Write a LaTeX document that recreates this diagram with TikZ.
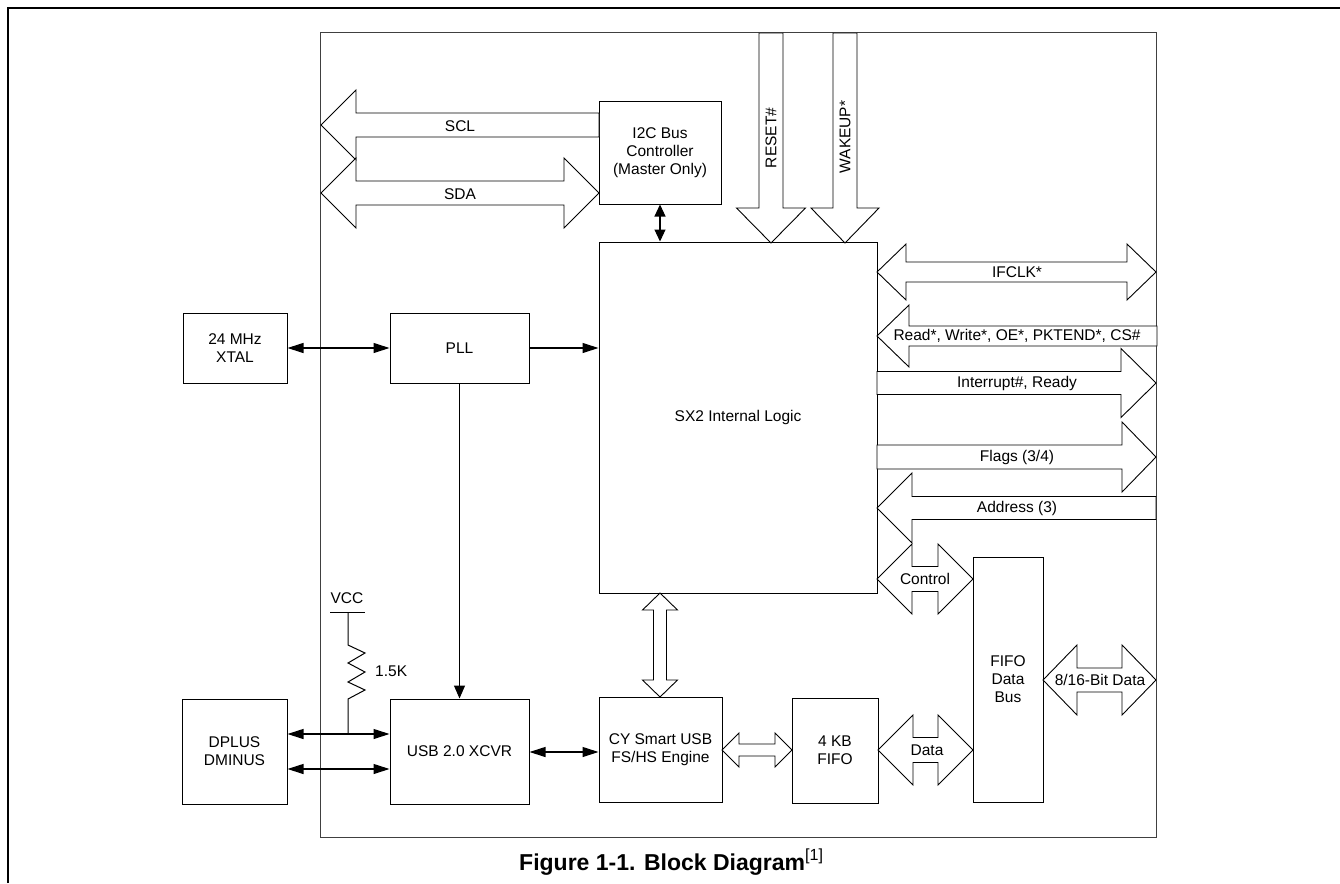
\documentclass[tikz,border=0pt]{standalone}
\usepackage{fontspec}
\setmainfont{Liberation Sans}
\usetikzlibrary{arrows.meta}
\newcommand{\HDbl}[6]{\draw[hol] (#1,#3) -- ({#1+#6},{#3-#5}) -- ({#1+#6},{#3-#4}) -- ({#2-#6},{#3-#4}) -- ({#2-#6},{#3-#5}) -- (#2,#3) -- ({#2-#6},{#3+#5}) -- ({#2-#6},{#3+#4}) -- ({#1+#6},{#3+#4}) -- ({#1+#6},{#3+#5}) -- cycle;}
\newcommand{\HRight}[6]{\draw[hol] (#1,{#3-#4}) -- ({#2-#6},{#3-#4}) -- ({#2-#6},{#3-#5}) -- (#2,#3) -- ({#2-#6},{#3+#5}) -- ({#2-#6},{#3+#4}) -- (#1,{#3+#4}) -- cycle;}
\newcommand{\HLeft}[6]{\draw[hol] (#2,{#3-#4}) -- ({#1+#6},{#3-#4}) -- ({#1+#6},{#3-#5}) -- (#1,#3) -- ({#1+#6},{#3+#5}) -- ({#1+#6},{#3+#4}) -- (#2,{#3+#4}) -- cycle;}
\newcommand{\VDbl}[6]{\draw[hol] (#3,#1) -- ({#3+#5},{#1+#6}) -- ({#3+#4},{#1+#6}) -- ({#3+#4},{#2-#6}) -- ({#3+#5},{#2-#6}) -- (#3,#2) -- ({#3-#5},{#2-#6}) -- ({#3-#4},{#2-#6}) -- ({#3-#4},{#1+#6}) -- ({#3-#5},{#1+#6}) -- cycle;}
\newcommand{\VDown}[6]{\draw[hol] ({#3-#4},#1) -- ({#3+#4},#1) -- ({#3+#4},{#2-#6}) -- ({#3+#5},{#2-#6}) -- (#3,#2) -- ({#3-#5},{#2-#6}) -- ({#3-#4},{#2-#6}) -- cycle;}
\begin{document}
\begin{tikzpicture}[x=1pt,y=-1pt,
  every node/.style={font=\fontsize{15.5}{18}\selectfont, inner sep=0pt},
  blk/.style={draw, line width=1pt, fill=white, align=center},
  hol/.style={draw, line width=0.9pt, fill=white, line join=miter},
  conn/.style={line width=1.1pt, -{Triangle[length=16pt,width=10pt]}},
  dconn/.style={line width=1.1pt, {Triangle[length=16pt,width=10pt]}-{Triangle[length=16pt,width=10pt]}},
  vconn/.style={line width=1.1pt, -{Triangle[length=13pt,width=11pt]}},
  vdconn/.style={line width=1.1pt, {Triangle[length=12pt,width=11pt]}-{Triangle[length=12pt,width=11pt]}},
  lbl/.style={inner sep=0pt}]
\useasboundingbox (0,0) rectangle (1340,883);
% outer frame
\draw[line width=2.6pt] (8,883) -- (8,8) -- (1340,8);
% chip border
\draw[line width=1pt, black!75] (320,33) rectangle (1156,837);

% blocks
\node[blk, minimum width=122pt, minimum height=103pt] (i2c) at (660,152.5) {I2C Bus\\Controller\\(Master Only)};
\node[blk, minimum width=278pt, minimum height=351pt] (sx2) at (738,417.5) {SX2 Internal Logic};
\node[blk, minimum width=104pt, minimum height=70pt] (xtal) at (235,348) {24 MHz\\XTAL};
\node[blk, minimum width=139pt, minimum height=70pt] (pll) at (459.5,348) {PLL};
\node[blk, minimum width=105pt, minimum height=105pt] (dplus) at (234.5,751.5) {DPLUS\\DMINUS};
\node[blk, minimum width=139pt, minimum height=105pt] (xcvr) at (459.5,751.5) {USB 2.0 XCVR};
\node[blk, minimum width=123pt, minimum height=105pt] (cy) at (660.5,749.5) {CY Smart USB\\FS/HS Engine};
\node[blk, minimum width=86pt, minimum height=105pt] (fifo) at (835,750.5) {4 KB\\FIFO};
\node[blk, minimum width=70pt, minimum height=245pt] (fdb) at (1008,679.5) {FIFO\\Data\\Bus};

% I2C hollow arrows
\HLeft{321}{599}{125}{12}{35}{35}
\HDbl{321}{599}{193}{12}{35}{35}
\node[lbl] (scl) at (460,126) {SCL};
\node[lbl] (sda) at (460,194) {SDA};

% RESET / WAKEUP
\VDown{33}{243}{771}{12}{34.5}{35}
\VDown{33}{243}{845}{12}{34}{35}
\node[lbl, rotate=90] (rst) at (771,138) {RESET\#};
\node[lbl, rotate=90] (wk) at (845,137) {WAKEUP*};

% right side hollow arrows
\HDbl{877}{1156}{272}{10}{28}{29}
\node[lbl] at (1017,272) {IFCLK*};
\HLeft{877}{1157}{336}{10}{31}{32}
\node[lbl] at (1017,336) {Read*, Write*, OE*, PKTEND*, CS\#};
\HRight{877}{1156}{383}{11.5}{34.5}{35}
\node[lbl] at (1017,383) {Interrupt\#, Ready};
\HRight{877}{1156}{457}{12}{35}{34}
\node[lbl] at (1017,457) {Flags (3/4)};
\HLeft{877}{1156}{508}{11.5}{35}{35}
\node[lbl] at (1017,508) {Address (3)};

% control / data / bus
\HDbl{877}{973}{579}{12.5}{35}{35}
\node[lbl] at (925,579) {Control};
\HDbl{878}{973}{750}{12.5}{35}{35}
\node[lbl] at (927,750) {Data};
\HDbl{1043}{1156}{680}{12}{35}{34}
\node[lbl] at (1100,680) {8/16-Bit Data};
\VDbl{593}{697}{660}{6.5}{17.5}{17}
\HDbl{722}{792}{750}{6}{17}{17}

% line connectors
\draw[vdconn] (i2c.south) -- (sx2.north -| i2c.south);
\draw[dconn] (xtal.east) -- (pll.west);
\draw[conn] (pll.east) -- (sx2.west |- pll.east);
\draw[vconn] (pll.south) -- (xcvr.north);
\draw[dconn] (dplus.east |- 0,734) -- (xcvr.west |- 0,734);
\draw[dconn] (dplus.east |- 0,769) -- (xcvr.west |- 0,769);
\draw[dconn] (xcvr.east |- 0,752) -- (cy.west |- 0,752);

% VCC pull-up
\coordinate (vcc) at (348,612);
\coordinate (junc) at (348,734);
\node[lbl] (vcclbl) at (347,598) {VCC};
\draw[line width=1pt] (330,612) -- (365,612);
\draw[line width=1pt, line join=miter] (vcc) -- (348,645) -- (365,653) -- (348,663) -- (365,672) -- (348,682) -- (365,690) -- (348,699) -- (junc);
\node[lbl, anchor=west] (rlbl) at (375,671) {1.5K};

% caption
\node[lbl, anchor=base west] (cap) at (519,870) {\bfseries\fontsize{23}{26}\selectfont Figure 1-1. Block Diagram\normalfont\textsuperscript{[1]}};
\end{tikzpicture}
\end{document}
